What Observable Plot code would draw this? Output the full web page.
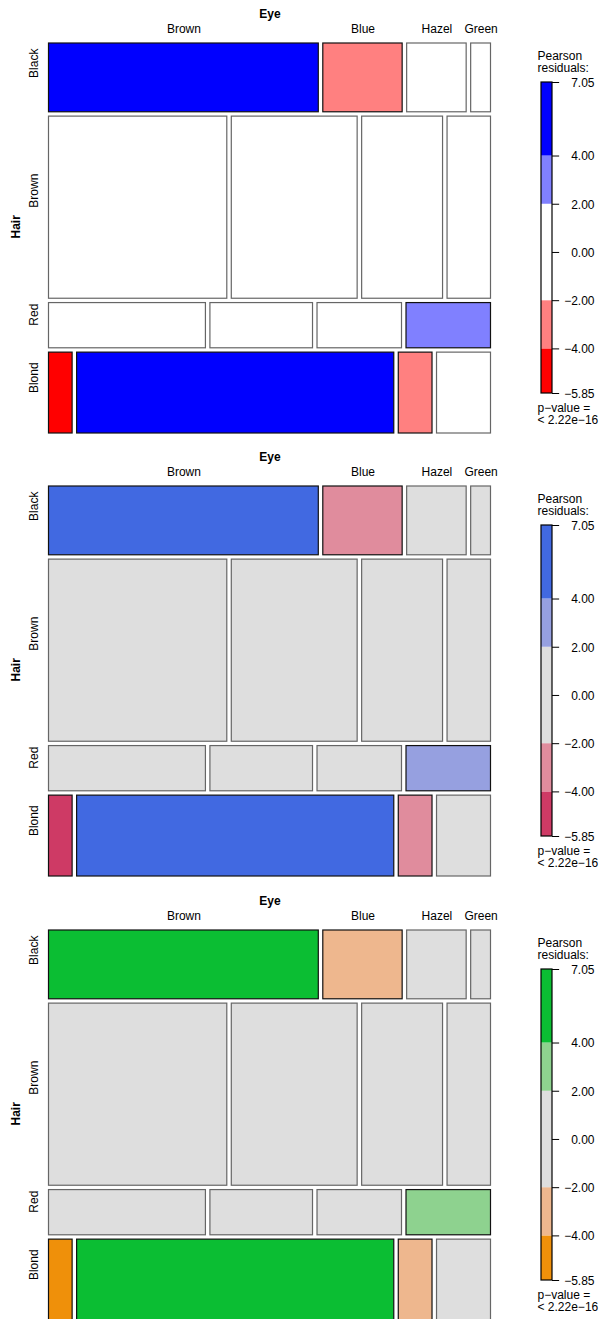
<!DOCTYPE html>
<html><head><meta charset="utf-8">
<script src="https://cdn.jsdelivr.net/npm/d3@7"></script>
<script src="https://cdn.jsdelivr.net/npm/@observablehq/plot@0.6"></script>
<style>
html,body{margin:0;padding:0;width:599px;height:1319px;overflow:hidden;background:#fff;}
#root{position:relative;width:599px;height:1319px;overflow:hidden;}
.panel{position:absolute;left:0;width:599px;}
.panel svg{position:absolute;top:0;}
</style></head><body><div id="root"></div>
<script>
// ---- data (HairEyeColor, summed over Sex) ----
const hairLevels = ["Black", "Brown", "Red", "Blond"];
const eyeLevels = ["Brown", "Blue", "Hazel", "Green"];
const blackCounts = [68, 20, 15, 5];
const brownCounts = [119, 84, 54, 29];
const redCounts = [26, 17, 14, 14];
const blondCounts = [7, 94, 10, 16];
const shadeCuts = [-4, -2, 2, 4];
const legendBreaks = [-4, -2, 0, 2, 4];
const legendTitle = "Pearson\nresiduals:";
const pValueLabel = "p\u2212value =\n< 2.22e\u221216";
const palettes = [
  ["#FF0000", "#FF8080", "#FFFFFF", "#8080FF", "#0000FF"],
  ["#CE3A65", "#E08C9D", "#DEDEDE", "#96A0E0", "#4169E1"],
  ["#EF900A", "#EEB78E", "#DEDEDE", "#8ED28F", "#0BBE33"]
];
const panelTops = [0, 443, 887];
const panelHeight = 444;

// ---- derived layout ----
const counts = [blackCounts, brownCounts, redCounts, blondCounts];
const rowTot = counts.map(r => d3.sum(r));
const colTot = eyeLevels.map((_, j) => d3.sum(counts, r => r[j]));
const N = d3.sum(rowTot);
const gx = 0.0105, gy = 0.0115;
const cells = [];
const rowLabels = [];
let yc = 0;
counts.forEach((row, i) => {
  const h = rowTot[i] / N;
  let xc = 0;
  row.forEach((o, j) => {
    const w = o / rowTot[i];
    const e = rowTot[i] * colTot[j] / N;
    const res = (o - e) / Math.sqrt(e);
    cells.push({hair: hairLevels[i], eye: eyeLevels[j], x1: xc, x2: xc + w, y1: yc, y2: yc + h, res, band: d3.bisectRight(shadeCuts, res)});
    xc += w + gx;
  });
  rowLabels.push({name: hairLevels[i], mid: yc + h / 2});
  yc += h + gy;
});
const eyeLabels = cells.filter(c => c.hair === hairLevels[0]).map(c => ({name: c.eye, mid: (c.x1 + c.x2) / 2}));
const rMin = d3.min(cells, c => c.res), rMax = d3.max(cells, c => c.res);
const rMinR = Math.round(rMin * 100) / 100, rMaxR = Math.round(rMax * 100) / 100;
const bandEdges = [rMinR, ...shadeCuts, rMaxR];
const legendTicks = [rMinR, ...legendBreaks, rMaxR];
const fmt = d3.format(".2f");

const font = "'Liberation Sans', Arial, Helvetica, sans-serif";
const root = document.getElementById("root");

palettes.forEach((pal, p) => {
  const div = document.createElement("div");
  div.className = "panel";
  div.style.top = panelTops[p] + "px";
  div.style.height = panelHeight + "px";
  root.appendChild(div);

  const mosaic = Plot.plot({
    width: 520, height: panelHeight, margin: 0,
    style: {fontFamily: font, fontSize: "12px", background: "transparent", overflow: "visible"},
    x: {domain: [0, 1 + 3 * gx], range: [48.5, 490.5], axis: null},
    y: {domain: [0, 1 + 3 * gy], range: [43, 433], axis: null},
    color: {type: "identity"},
    marks: [
      Plot.rect(cells, {x1: "x1", x2: "x2", y1: "y1", y2: "y2", fill: d => pal[d.band], stroke: d => d.band === 2 ? "#666666" : "#111111", strokeWidth: 1.2}),
      Plot.text(eyeLabels, {x: "mid", text: "name", frameAnchor: "top", dy: 28.5, lineAnchor: "middle", fill: "#000"}),
      Plot.text(["Eye"], {x: (1 + 3 * gx) / 2, text: d => d, frameAnchor: "top", dy: 14, lineAnchor: "middle", fontWeight: "bold", fill: "#000"}),
      Plot.text(rowLabels, {y: "mid", text: "name", frameAnchor: "left", dx: 34, rotate: -90, lineAnchor: "middle", fill: "#000"}),
      Plot.text(["Hair"], {y: (1 + 3 * gy) / 2, text: d => d, frameAnchor: "left", dx: 16, rotate: -90, lineAnchor: "middle", fontWeight: "bold", fill: "#000"})
    ]
  });
  mosaic.style.left = "0px";
  div.appendChild(mosaic);

  const bands = d3.range(5).map(k => ({lo: bandEdges[k], hi: bandEdges[k + 1], color: pal[k]}));
  const legend = Plot.plot({
    width: 79, height: panelHeight, margin: 0,
    style: {fontFamily: font, fontSize: "12px", background: "transparent", overflow: "visible"},
    x: {domain: [0, 1], range: [21, 32], axis: null},
    y: {domain: [rMinR, rMaxR], range: [393, 82], axis: null},
    color: {type: "identity"},
    marks: [
      Plot.rect(bands, {x1: 0, x2: 1, y1: "lo", y2: "hi", fill: "color"}),
      Plot.rect([0], {x1: 0, x2: 1, y1: rMinR, y2: rMaxR, stroke: "#000", fill: "none", strokeWidth: 1.2}),
      Plot.ruleY(legendTicks, {x1: 1, x2: 1.65, stroke: "#000"}),
      Plot.text(legendTicks, {y: d => d, text: d => fmt(d), frameAnchor: "right", textAnchor: "end", dx: -5, dy: 0.5, fill: "#000"}),
      Plot.text([legendTitle], {text: d => d, frameAnchor: "top-left", dx: 17, dy: 51, lineAnchor: "top", textAnchor: "start", lineHeight: 1.0, fill: "#000"}),
      Plot.text([pValueLabel], {text: d => d, frameAnchor: "top-left", dx: 17, dy: 402.5, lineAnchor: "top", textAnchor: "start", lineHeight: 1.0, fill: "#000"})
    ]
  });
  legend.style.left = "520px";
  div.appendChild(legend);
});
</script></body></html>
